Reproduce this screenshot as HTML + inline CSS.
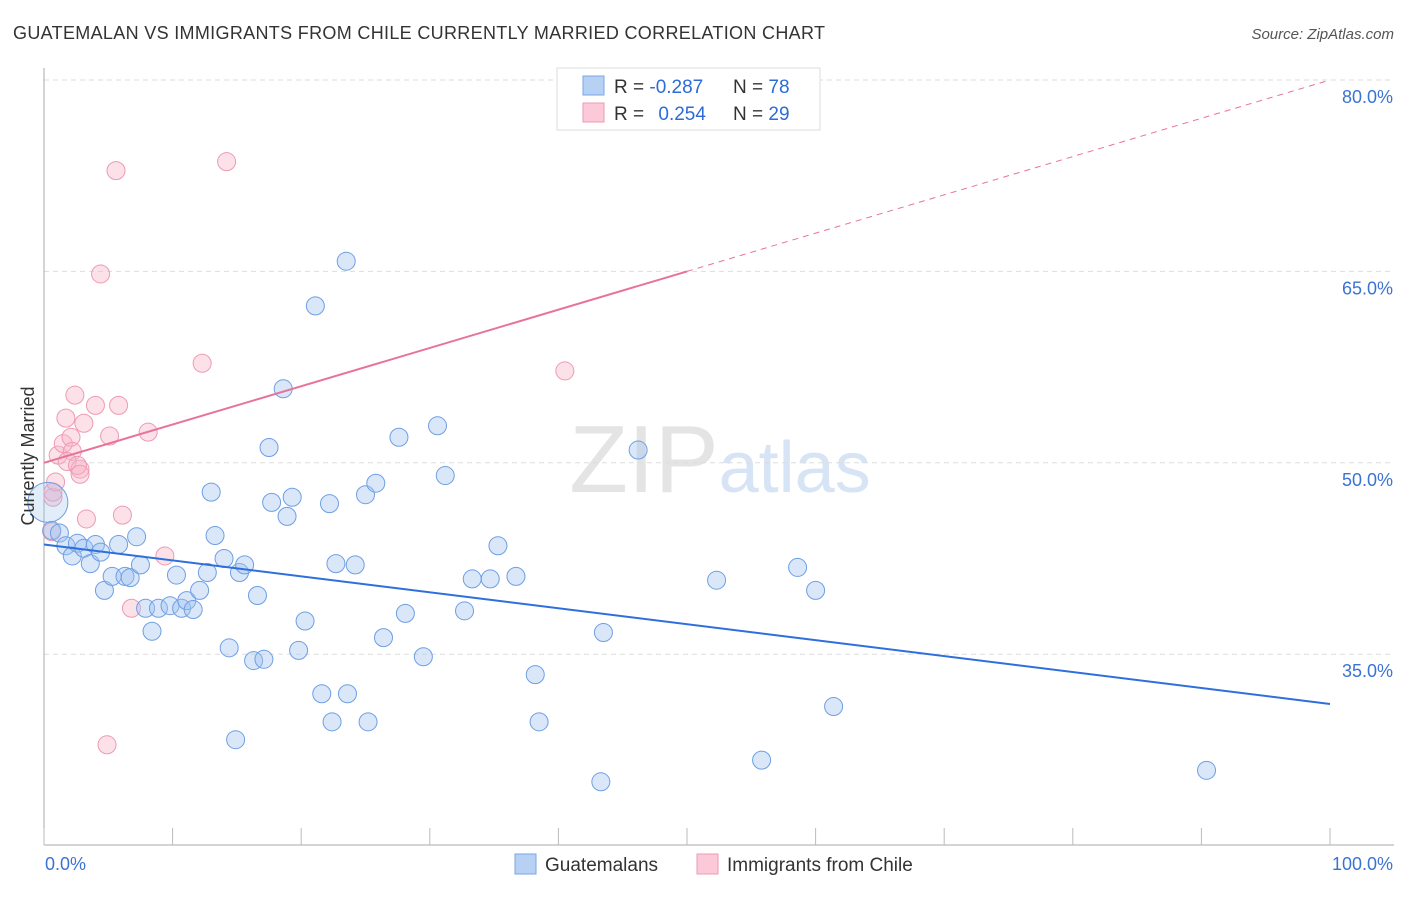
<!DOCTYPE html>
<html><head><meta charset="utf-8"><style>
body{margin:0;background:#fff;font-family:"Liberation Sans",sans-serif;}
svg text{font-family:"Liberation Sans",sans-serif;}
</style></head><body>
<svg id="chart" width="1406" height="892" xmlns="http://www.w3.org/2000/svg">
<text x="13" y="39" font-size="18" fill="#333" textLength="812">GUATEMALAN VS IMMIGRANTS FROM CHILE CURRENTLY MARRIED CORRELATION CHART</text>
<text x="1394" y="39" font-size="15" fill="#555" text-anchor="end" font-style="italic">Source: ZipAtlas.com</text>
<text x="720" y="492" font-size="96" text-anchor="middle" fill="#e4e4e4" font-family="Liberation Serif">ZIP<tspan fill="#d6e4f5" font-family="Liberation Sans" font-size="72">atlas</tspan></text>
<g id="grid"></g>
<g id="axes"></g>
<g id="pts"></g>
<g id="lines"></g>
<text transform="translate(34,456) rotate(-90)" font-size="18" fill="#333" text-anchor="middle">Currently Married</text>
<g>
<rect x="557" y="68" width="263" height="62" fill="#fff" stroke="#ddd"/>
<rect x="583" y="76" width="21" height="19" fill="#b7d1f5" stroke="#7aa6e6"/>
<rect x="583" y="103" width="21" height="19" fill="#fbc9d8" stroke="#ee9ab5"/>
<text x="614" y="93" font-size="19" fill="#333">R = <tspan fill="#2d6bd6">-0.287</tspan></text>
<text x="733" y="93" font-size="19" fill="#333">N = <tspan fill="#2d6bd6">78</tspan></text>
<text x="614" y="120" font-size="19" fill="#333">R = <tspan fill="#2d6bd6" dx="9">0.254</tspan></text>
<text x="733" y="120" font-size="19" fill="#333">N = <tspan fill="#2d6bd6">29</tspan></text>
</g>
<g>
<rect x="515" y="854" width="21" height="20" fill="#b7d1f5" stroke="#7aa6e6"/>
<text x="545" y="871" font-size="19" fill="#333">Guatemalans</text>
<rect x="697" y="854" width="21" height="20" fill="#fbc9d8" stroke="#ee9ab5"/>
<text x="727" y="871" font-size="19" fill="#333">Immigrants from Chile</text>
</g>
</svg>
<script>
const yTicks=[35,50,65,80];
const yTickLabels=["35.0%","50.0%","65.0%","80.0%"];
const xTickLabels=["0.0%","100.0%"];
const blueX=[0.6,1.2,1.7,2.2,2.6,3.1,3.6,4.0,4.4,4.7,5.3,5.8,6.3,6.7,7.2,7.5,7.9,8.4,8.9,9.8,10.3,10.7,11.1,11.6,12.1,12.7,13.0,13.3,14.0,14.4,14.9,15.2,15.6,16.6,16.3,17.1,17.5,17.7,18.6,18.9,19.3,19.8,20.3,21.1,21.6,22.2,22.4,22.7,23.5,23.6,24.2,25.0,25.2,25.8,26.4,27.6,28.1,29.5,30.6,31.2,32.7,33.3,34.7,35.3,36.7,38.2,38.5,43.3,43.5,46.2,52.3,55.8,58.6,60.0,61.4,90.4,0.3];
const blueY=[44.7,44.5,43.5,42.7,43.7,43.3,42.1,43.6,43.0,40.0,41.1,43.6,41.1,41.0,44.2,42.0,38.6,36.8,38.6,38.8,41.2,38.6,39.2,38.5,40.0,41.4,47.7,44.3,42.5,35.5,28.3,41.4,42.0,39.6,34.5,34.6,51.2,46.9,55.8,45.8,47.3,35.3,37.6,62.3,31.9,46.8,29.7,42.1,65.8,31.9,42.0,47.5,29.7,48.4,36.3,52.0,38.2,34.8,52.9,49.0,38.4,40.9,40.9,43.5,41.1,33.4,29.7,25.0,36.7,51.0,40.8,26.7,41.8,40.0,30.9,25.9,46.9];
const pinkX=[0.7,0.7,0.9,1.1,1.5,1.7,2.1,2.4,3.1,4.0,2.2,1.8,2.8,3.3,4.4,5.1,5.6,5.8,6.1,6.8,8.1,9.4,12.3,14.2,4.9,40.5,0.6,2.6,2.8];
const pinkY=[47.3,47.7,48.5,50.6,51.5,53.5,52.0,55.3,53.1,54.5,50.9,50.1,49.5,45.6,64.8,52.1,72.9,54.5,45.9,38.6,52.4,42.7,57.8,73.6,27.9,57.2,44.6,49.8,49.1];
const blueTrend=[43.6,31.1];
const pinkTrend=[50.0,80.0];
const pinkSolidEnd=50;
const NS="http://www.w3.org/2000/svg";
const X=v=>44+v*12.86, Y=v=>80+(80-v)*12.76;
function mk(t,a,p){const e=document.createElementNS(NS,t);for(const k in a)e.setAttribute(k,a[k]);p.appendChild(e);return e;}
const grid=document.getElementById('grid'),axes=document.getElementById('axes'),pts=document.getElementById('pts'),lines=document.getElementById('lines');
yTicks.forEach((t,i)=>{
 const l=mk('line',{x1:44,x2:1394,y1:Y(t),y2:Y(t),stroke:'#ddd','stroke-dasharray':'5,4'},grid);
 
 
 const tx=mk('text',{x:1393,y:Y(t)+23,'font-size':18,fill:'#3b73d4','text-anchor':'end'},axes);
 tx.textContent=yTickLabels[i];
 
 
});
const ax=mk('line',{x1:44,x2:44,y1:68,y2:845,stroke:'#aaa'},axes);


const bx=mk('line',{x1:44,x2:1394,y1:845,y2:845,stroke:'#aaa'},axes);


for(let i=0;i<=10;i++){const t=mk('line',{x1:X(i*10),x2:X(i*10),y1:828,y2:845,stroke:'#bbb'},axes);
 
 }
[[0,'start',45],[100,'end',1393]].forEach((d,i)=>{const t=mk('text',{x:d[2],y:870,'font-size':18,fill:'#3b73d4','text-anchor':d[1]},axes);t.textContent=xTickLabels[i];
 
 });
pinkX.forEach((x,i)=>{const c=mk('circle',{cx:X(x),cy:Y(pinkY[i]),r:9,fill:'rgba(248,180,200,0.4)',stroke:'#ee9ab5','stroke-width':1},pts);
 
 });
blueX.forEach((x,i)=>{const big=i===blueX.length-1;const c=mk('circle',{cx:X(x),cy:Y(blueY[i]),r:big?20:9,fill:big?'rgba(160,195,240,0.3)':'rgba(160,195,240,0.4)',stroke:'#6e9fe4','stroke-width':1},pts);
 
 });
const bl=mk('line',{x1:X(0),y1:Y(blueTrend[0]),x2:X(100),y2:Y(blueTrend[1]),stroke:'#2f6fdc','stroke-width':2},lines);


const pm=pinkTrend[0]+(pinkTrend[1]-pinkTrend[0])*pinkSolidEnd/100;
const pl=mk('line',{x1:X(0),y1:Y(pinkTrend[0]),x2:X(pinkSolidEnd),y2:Y(pm),stroke:'#e8739a','stroke-width':2},lines);


const pd=mk('line',{x1:X(pinkSolidEnd),y1:Y(pm),x2:X(100),y2:Y(pinkTrend[1]),stroke:'#e8739a','stroke-width':1,'stroke-dasharray':'6,5'},lines);


</script>
</body></html>
